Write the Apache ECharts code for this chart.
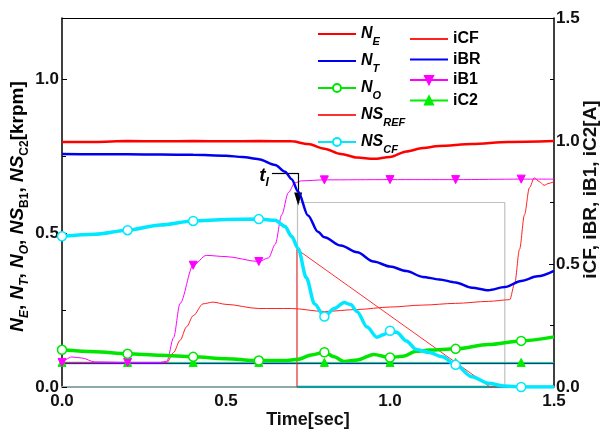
<!DOCTYPE html>
<html><head><meta charset="utf-8">
<script src="https://cdn.jsdelivr.net/npm/echarts/dist/echarts.min.js"></script>
<style>html,body{margin:0;padding:0;background:#fff}#c{width:603px;height:430px}</style>
</head><body><div id="c"></div>
<script>
// ---------- data ----------
const MARK_T = [0, 0.2, 0.4, 0.6, 0.8, 1.0, 1.2, 1.4];
const X_TICKS = [0, 0.5, 1.0, 1.5];

const NE_T = [0, 0.1, 0.2, 0.3, 0.4, 0.5, 0.6, 0.7, 0.75, 0.8, 0.85, 0.9, 0.95, 1.0, 1.05, 1.1, 1.15, 1.25, 1.36, 1.5];
const NE_V = [0.797, 0.797, 0.8, 0.799, 0.8, 0.799, 0.8, 0.799, 0.79, 0.775, 0.758, 0.746, 0.742, 0.748, 0.766, 0.777, 0.784, 0.79, 0.797, 0.8];

const NT_T = [0, 0.1, 0.2, 0.3, 0.4, 0.5, 0.55, 0.6, 0.65, 0.68, 0.7, 0.72, 0.75, 0.78, 0.8, 0.85, 0.9, 0.95, 1.0, 1.05, 1.1, 1.15, 1.2, 1.25, 1.3, 1.35, 1.4, 1.45, 1.5];
const NT_V = [0.758, 0.757, 0.757, 0.756, 0.755, 0.752, 0.748, 0.741, 0.722, 0.7, 0.676, 0.635, 0.558, 0.505, 0.487, 0.46, 0.438, 0.408, 0.392, 0.377, 0.358, 0.35, 0.34, 0.323, 0.315, 0.325, 0.345, 0.36, 0.378];

const NO_T = [0, 0.1, 0.2, 0.3, 0.4, 0.5, 0.6, 0.68, 0.72, 0.76, 0.8, 0.83, 0.86, 0.9, 0.95, 1.0, 1.04, 1.08, 1.12, 1.2, 1.3, 1.4, 1.5];
const NO_V = [0.121, 0.115, 0.108, 0.103, 0.098, 0.092, 0.086, 0.086, 0.09, 0.104, 0.113, 0.098, 0.083, 0.088, 0.106, 0.096, 0.1, 0.116, 0.12, 0.124, 0.138, 0.15, 0.163];

const REF_T = [0.716, 0.716, 1.305, 1.5];
const REF_V = [0, 0.448, 0, 0];

const CF_T = [0, 0.1, 0.2, 0.3, 0.4, 0.5, 0.6, 0.65, 0.68, 0.7, 0.72, 0.745, 0.77, 0.8, 0.83, 0.86, 0.88, 0.9, 0.93, 0.96, 0.98, 1.0, 1.02, 1.05, 1.08, 1.12, 1.16, 1.2, 1.25, 1.3, 1.35, 1.4, 1.5];
const CF_V = [0.49, 0.497, 0.51, 0.527, 0.54, 0.545, 0.546, 0.542, 0.522, 0.49, 0.45, 0.355, 0.27, 0.229, 0.255, 0.275, 0.268, 0.245, 0.195, 0.162, 0.17, 0.183, 0.178, 0.15, 0.122, 0.112, 0.098, 0.072, 0.033, 0.012, 0.003, 0.0, 0.0];

const NSB_T = [0.716, 1.5];
const NSB_V = [0, 0];

const PULSE_T = [0.718, 0.718, 1.35, 1.35];
const PULSE_V = [0, 0.6, 0.6, 0];

const ICF_T = [0, 0.32, 0.34, 0.36, 0.38, 0.4, 0.43, 0.46, 0.5, 0.6, 0.7, 0.8, 0.9, 1.0, 1.1, 1.2, 1.3, 1.365, 1.38, 1.395, 1.41, 1.425, 1.44, 1.455, 1.47, 1.485, 1.5];
const ICF_V = [0.1, 0.1, 0.14, 0.19, 0.245, 0.29, 0.338, 0.345, 0.336, 0.319, 0.319, 0.307, 0.315, 0.325, 0.333, 0.34, 0.348, 0.355, 0.42, 0.56, 0.7, 0.81, 0.85, 0.835, 0.82, 0.828, 0.835];

const IBR_T = [0, 0.5, 1.0, 1.5];
const IBR_V = [0.095, 0.095, 0.095, 0.095];

const IB1_T = [0, 0.03, 0.06, 0.1, 0.2, 0.3, 0.32, 0.34, 0.36, 0.4, 0.44, 0.5, 0.6, 0.63, 0.65, 0.67, 0.69, 0.71, 0.73, 0.8, 1.0, 1.2, 1.4, 1.5];
const IB1_V = [0.1, 0.122, 0.118, 0.102, 0.1, 0.1, 0.105, 0.2, 0.34, 0.495, 0.535, 0.53, 0.51, 0.525, 0.58, 0.7, 0.79, 0.83, 0.838, 0.842, 0.843, 0.843, 0.845, 0.845];

const IC2_T = [0, 0.2, 0.4, 0.6, 0.8, 1.0, 1.2, 1.4, 1.5];
const IC2_V = [0.1, 0.1, 0.1, 0.1, 0.1, 0.1, 0.1, 0.1, 0.1];

// annotation t_l (data coords)
const TL_LINE = [[0.64, 0.696], [0.72, 0.696], [0.72, 0.611]];

// ---------- chart ----------
const FONT = 'Liberation Sans';
const chart = echarts.init(document.getElementById('c'), null, {renderer: 'canvas'});

function pts(T, V, marks) {
  return T.map((t, i) => {
    const o = {value: [t, V[i]]};
    if (marks && !MARK_T.some(m => Math.abs(m - t) < 1e-9)) o.symbol = 'none';
    return o;
  });
}

function line(name, T, V, opt) {
  const s = Object.assign({
    name: name, type: 'line', data: pts(T, V, opt.marks),
    yAxisIndex: opt.y || 0, xAxisIndex: 0,
    symbol: opt.symbol || 'none', symbolSize: opt.symbolSize || 8,
    symbolRotate: opt.rot || 0,
    smooth: opt.smooth === undefined ? 0.3 : opt.smooth,
    smoothMonotone: 'x',
    lineStyle: {color: opt.color, width: opt.width},
    itemStyle: {color: opt.fill || opt.color, borderColor: opt.color, borderWidth: opt.bw || 1},
    emphasis: {disabled: true}, animation: false, z: opt.z || 2, silent: true
  }, opt.extra || {});
  return s;
}

const legendRich = {
  n: {fontFamily: FONT, fontSize: 16, fontWeight: 'bold', fontStyle: 'italic', color: '#000', lineHeight: 16, verticalAlign: 'top'},
  s: {fontFamily: FONT, fontSize: 11, fontWeight: 'bold', fontStyle: 'italic', color: '#000', lineHeight: 11, padding: [10, 0, 0, 0], verticalAlign: 'top'}
};
const LEG1_LABEL = {N_E: '{n|N}{s|E}', N_T: '{n|N}{s|T}', N_O: '{n|N}{s|O}', NS_REF: '{n|NS}{s|REF}', NS_CF: '{n|NS}{s|CF}'};
const noSym = {opacity: 0};

const nameRich = {
  n: {fontFamily: FONT, fontSize: 19, fontWeight: 'bold', fontStyle: 'italic', color: '#000', lineHeight: 19, verticalAlign: 'top'},
  s: {fontFamily: FONT, fontSize: 12, fontWeight: 'bold', fontStyle: 'italic', color: '#000', lineHeight: 12, padding: [11, 0, 0, 0], verticalAlign: 'top'},
  u: {fontFamily: FONT, fontSize: 12, fontWeight: 'bold', color: '#000', lineHeight: 12, padding: [11, 0, 0, 0], verticalAlign: 'top'},
  p: {fontFamily: FONT, fontSize: 19, fontWeight: 'bold', color: '#000', lineHeight: 19, verticalAlign: 'top'}
};

const tickLabel = {fontFamily: FONT, fontSize: 17, fontWeight: 'bold', color: '#111'};

const option = {
  backgroundColor: '#fff',
  animation: false,
  grid: {left: 62, right: 49, top: 18, bottom: 43, containLabel: false, outerBoundsMode: 'none'},
  xAxis: [{
    type: 'value', min: 0, max: 1.5, interval: 0.5,
    axisLine: {show: true, onZero: false, lineStyle: {color: '#8fa8a8', width: 2}},
    axisTick: {show: false}, splitLine: {show: false},
    axisLabel: Object.assign({margin: 6, formatter: v => X_TICKS.some(x => Math.abs(x - v) < 1e-9) ? v.toFixed(1) : ''}, tickLabel),
    name: 'Time[sec]', nameLocation: 'middle', nameGap: 24, nameMoveOverlap: false,
    nameTextStyle: {fontFamily: FONT, fontSize: 18, fontWeight: 'bold', color: '#111'}
  }, {
    type: 'value', min: 0, max: 1.5, position: 'top',
    axisLine: {show: true, onZero: false, lineStyle: {color: '#000', width: 1}},
    axisTick: {show: false}, axisLabel: {show: false}, splitLine: {show: false}
  }],
  yAxis: [{
    type: 'value', min: 0, max: 1.2, interval: 0.5, position: 'left',
    axisLine: {show: true, onZero: false, lineStyle: {color: '#000', width: 1.5}},
    axisTick: {show: true, inside: true, length: 5, lineStyle: {color: '#000'}},
    minorTick: {show: true, splitNumber: 2, length: 4, lineStyle: {color: '#000'}},
    splitLine: {show: false}, minorSplitLine: {show: false},
    axisLabel: Object.assign({margin: 3, showMaxLabel: false, formatter: v => (Math.abs(v * 2 - Math.round(v * 2)) < 1e-9) ? v.toFixed(1) : ''}, tickLabel),
    name: '{n|N}{s|E}{p|, }{n|N}{s|T}{p|, }{n|N}{s|O}{p|, }{n|NS}{u|B1}{p|, }{n|NS}{u|C2}{p|[krpm]}',
    nameLocation: 'middle', nameGap: 35, nameRotate: 90, nameMoveOverlap: false,
    nameTextStyle: {rich: nameRich, padding: [0, 8, 0, 0]}
  }, {
    type: 'value', min: 0, max: 1.5, interval: 0.5, position: 'right',
    axisLine: {show: true, onZero: false, lineStyle: {color: '#000', width: 1.5}},
    axisTick: {show: true, inside: true, length: 5, lineStyle: {color: '#000'}},
    minorTick: {show: true, splitNumber: 2, length: 4, lineStyle: {color: '#000'}},
    splitLine: {show: false},
    axisLabel: Object.assign({margin: 2, formatter: v => v.toFixed(1)}, tickLabel),
    name: 'iCF, iBR, iB1, iC2[A]', nameLocation: 'middle', nameGap: 27, nameRotate: 90, nameMoveOverlap: false,
    nameTextStyle: {fontFamily: FONT, fontSize: 19, fontWeight: 'bold', color: '#111', padding: [0, 0, 0, 26]}
  }],
  legend: [{
    data: [{name: 'N_E', itemStyle: noSym}, {name: 'N_T', itemStyle: noSym}, 'N_O', {name: 'NS_REF', itemStyle: noSym}, 'NS_CF'],
    orient: 'vertical', left: 317, top: 26, padding: 0, itemWidth: 38, itemHeight: 10, itemGap: 6,
    formatter: n => LEG1_LABEL[n], textStyle: {rich: legendRich},
    selectedMode: false
  }, {
    data: [{name: 'iCF', itemStyle: noSym}, {name: 'iBR', itemStyle: noSym}, 'iB1', 'iC2'],
    orient: 'vertical', left: 409, top: 31, padding: 0, itemWidth: 38, itemHeight: 10, itemGap: 4.5,
    textStyle: {fontFamily: FONT, fontSize: 16, fontWeight: 'bold', color: '#000', lineHeight: 16},
    selectedMode: false
  }],
  series: [
    line('pulse', PULSE_T, PULSE_V, {color: '#c0c0c0', width: 1.2, smooth: false, z: 1}),
    line('NS_B1', NSB_T, NSB_V, {color: '#109a9a', width: 2.5, smooth: false, z: 1}),
    line('iBR', IBR_T, IBR_V, {y: 1, color: '#0000ff', width: 1, smooth: false, z: 2}),
    line('iC2', IC2_T, IC2_V, {y: 1, color: '#00ee00', width: 1, marks: true, symbol: 'triangle', symbolSize: 8, smooth: false, z: 3}),
    line('iCF', ICF_T, ICF_V, {y: 1, color: '#ff2020', width: 1, z: 3}),
    line('iB1', IB1_T, IB1_V, {y: 1, color: '#ff00ff', width: 1, marks: true, symbol: 'triangle', rot: 180, symbolSize: 8, z: 3}),
    line('NS_REF', REF_T, REF_V, {color: '#ff3030', width: 1, smooth: false, z: 3,
      extra: {markLine: {silent: true, symbol: ['none', 'none'], animation: false,
        lineStyle: {color: '#000', width: 1.2, type: 'solid'}, label: {show: false},
        data: [
          [{coord: TL_LINE[0]}, {coord: TL_LINE[1]}],
          [{coord: TL_LINE[1]}, {coord: TL_LINE[2], symbol: 'triangle', symbolSize: [8, 13], symbolRotate: 180}]
        ]}}}),
    line('N_O', NO_T, NO_V, {color: '#00e600', width: 3.5, marks: true, symbol: 'circle', symbolSize: 9, fill: '#fff', bw: 1.5, z: 4}),
    line('NS_CF', CF_T, CF_V, {color: '#00e8ff', width: 3.5, marks: true, symbol: 'circle', symbolSize: 9, fill: '#fff', bw: 1.5, z: 4}),
    line('N_T', NT_T, NT_V, {color: '#0000ee', width: 2.5, z: 5}),
    line('N_E', NE_T, NE_V, {color: '#ff0000', width: 2.5, z: 5})
  ]
};
chart.setOption(option);

// t_l annotation text, anchored to the data point where the pointer line starts
const p0 = chart.convertToPixel({xAxisIndex: 0, yAxisIndex: 0}, TL_LINE[0]);
chart.setOption({graphic: [{
  type: 'text', x: p0[0] - 3, y: p0[1] + 3, z: 10, silent: true,
  style: {text: '{t|t}{l|l}', align: 'right', verticalAlign: 'middle',
    rich: {
      t: {fontFamily: FONT, fontSize: 19, fontWeight: 'bold', fontStyle: 'italic', fill: '#000', lineHeight: 19, verticalAlign: 'top'},
      l: {fontFamily: FONT, fontSize: 12, fontWeight: 'bold', fontStyle: 'italic', fill: '#000', lineHeight: 12, padding: [10, 0, 0, 0], verticalAlign: 'top'}
    }}
}]});
</script></body></html>
